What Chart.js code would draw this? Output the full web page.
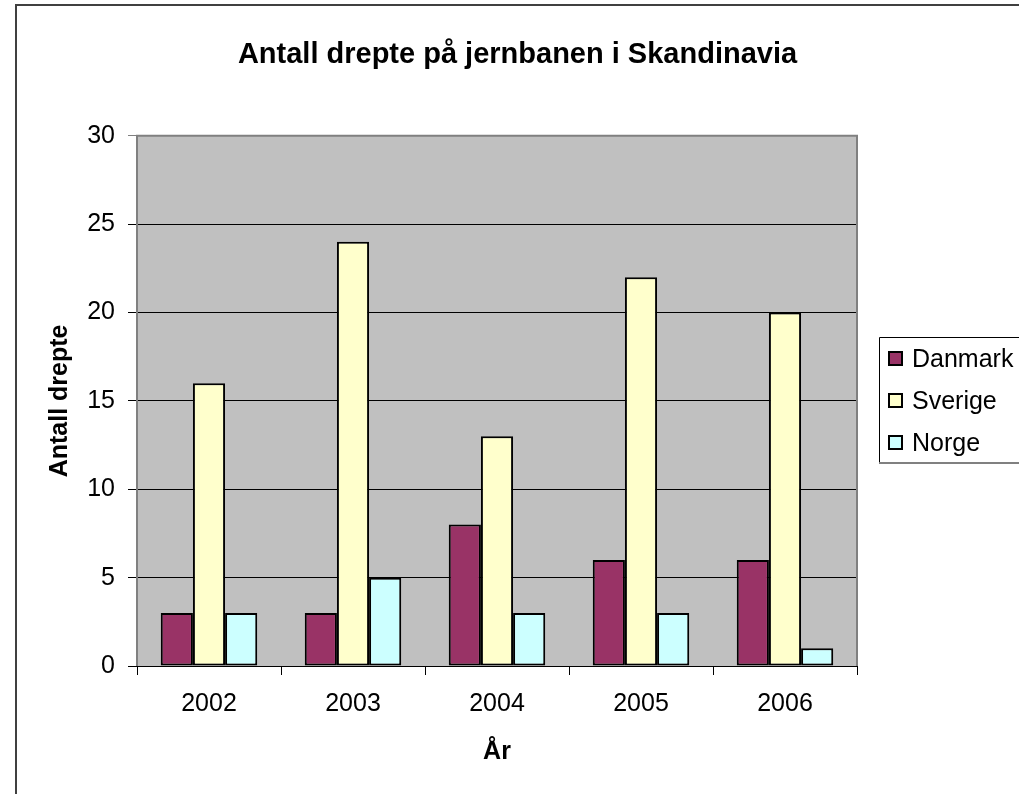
<!DOCTYPE html>
<html>
<head>
<meta charset="utf-8">
<script src="https://cdn.jsdelivr.net/npm/chart.js@4"></script>
<style>
    body { margin: 0; background: #fff; overflow: hidden; }
    canvas { display: block; }
</style>
</head>
<body>
<canvas id="graficoDrepte" width="1019" height="794"></canvas>
<script>
const aar = ['2002', '2003', '2004', '2005', '2006'];
const danmark = [3, 3, 8, 6, 6];
const sverige = [16, 24, 13, 22, 20];
const norge = [3, 5, 3, 3, 1];

const fonte = '"Liberation Sans", Arial, sans-serif';

// bakgrunn, ramme og egen forklaring (legend) slik Excel tegner dem
const excelPlugin = {
    id: 'excelStil',
    beforeDraw(chart) {
        const ctx = chart.ctx;
        const a = chart.chartArea;
        ctx.save();
        ctx.fillStyle = '#fff';
        ctx.fillRect(0, 0, chart.width, chart.height);
        ctx.strokeStyle = '#404040';
        ctx.lineWidth = 2;
        ctx.beginPath();
        ctx.moveTo(16, chart.height);
        ctx.lineTo(16, 5);
        ctx.lineTo(chart.width, 5);
        ctx.stroke();
        ctx.fillStyle = '#c0c0c0';
        ctx.fillRect(a.left, a.top, a.right - a.left, a.bottom - a.top);
        ctx.restore();
    },
    afterDatasetsDraw(chart) {
        const ctx = chart.ctx;
        const a = chart.chartArea;
        ctx.save();
        ctx.strokeStyle = '#808080';
        ctx.lineWidth = 2;
        ctx.beginPath();
        ctx.moveTo(a.left, a.bottom);
        ctx.lineTo(a.left, a.top);
        ctx.lineTo(a.right, a.top);
        ctx.lineTo(a.right, a.bottom);
        ctx.stroke();
        ctx.strokeStyle = '#000';
        ctx.lineWidth = 1;
        ctx.beginPath();
        ctx.moveTo(a.left, a.bottom + 0.5);
        ctx.lineTo(a.right, a.bottom + 0.5);
        ctx.stroke();

        // forklaring
        const lx = 879, ly = 337, lh = 126;
        ctx.fillStyle = '#fff';
        ctx.fillRect(lx, ly, chart.width - lx, lh);
        ctx.strokeStyle = '#000';
        ctx.lineWidth = 1;
        ctx.beginPath();
        ctx.moveTo(lx + 0.5, ly + lh);
        ctx.lineTo(lx + 0.5, ly + 0.5);
        ctx.lineTo(chart.width, ly + 0.5);
        ctx.stroke();
        ctx.strokeStyle = '#808080';
        ctx.lineWidth = 2;
        ctx.beginPath();
        ctx.moveTo(lx, ly + lh);
        ctx.lineTo(chart.width, ly + lh);
        ctx.stroke();
        ctx.font = '25px ' + fonte;
        ctx.textBaseline = 'middle';
        chart.data.datasets.forEach((ds, i) => {
            const y = 359 + i * 42;
            ctx.fillStyle = ds.backgroundColor;
            ctx.fillRect(889, y - 7, 13, 13);
            ctx.strokeStyle = '#000';
            ctx.lineWidth = 2;
            ctx.strokeRect(889, y - 7, 13, 13);
            ctx.fillStyle = '#000';
            ctx.fillText(ds.label, 912, y + 1);
        });
        ctx.restore();
    }
};

const graficoDrepte = document.getElementById('graficoDrepte');

const grafico = new Chart(graficoDrepte, {
    type: 'bar',
    data: {
        labels: aar,
        datasets: [{
            label: 'Danmark',
            data: danmark,
            backgroundColor: '#993366'
        }, {
            label: 'Sverige',
            data: sverige,
            backgroundColor: '#ffffcc'
        }, {
            label: 'Norge',
            data: norge,
            backgroundColor: '#ccffff'
        }]
    },
    options: {
        responsive: false,
        animation: false,
        devicePixelRatio: 1,
        layout: { padding: { left: 16, right: 0, top: 0, bottom: 0 } },
        datasets: {
            bar: {
                borderColor: '#000',
                borderWidth: 2,
                borderSkipped: false,
                categoryPercentage: 0.67,
                barPercentage: 1
            }
        },
        plugins: {
            legend: { display: false },
            tooltip: { enabled: false },
            title: {
                display: true,
                text: 'Antall drepte på jernbanen i Skandinavia',
                color: '#000',
                font: { family: fonte, size: 29, weight: 'bold' },
                padding: { top: 38, bottom: 63 }
            }
        },
        scales: {
            x: {
                grid: {
                    offset: true,
                    drawOnChartArea: false,
                    drawTicks: true,
                    tickLength: 9,
                    color: '#000'
                },
                border: { display: false },
                ticks: {
                    color: '#000',
                    font: { family: fonte, size: 25 },
                    padding: 14,
                    maxRotation: 0
                },
                title: {
                    display: true,
                    text: 'År',
                    color: '#000',
                    font: { family: fonte, size: 25, weight: 'bold' },
                    padding: { top: 0, bottom: 27 }
                },
                afterFit(scale) { scale.height = 128; }
            },
            y: {
                min: 0,
                max: 30,
                ticks: {
                    stepSize: 5,
                    color: '#000',
                    font: { family: fonte, size: 25 },
                    padding: 13
                },
                grid: {
                    color: (c) => c.tick && c.tick.value === 30 ? '#808080' : '#000',
                    lineWidth: 1,
                    tickLength: 9,
                    drawTicks: true
                },
                border: { display: false },
                title: {
                    display: true,
                    text: 'Antall drepte',
                    color: '#000',
                    font: { family: fonte, size: 25, weight: 'bold' },
                    padding: { top: 29, bottom: 0 }
                },
                afterFit(scale) { scale.width = 121; }
            },
            plass: {
                type: 'linear',
                position: 'right',
                display: true,
                grid: { display: false, drawTicks: false },
                border: { display: false },
                ticks: { display: false },
                afterFit(scale) { scale.width = 162; }
            }
        }
    },
    plugins: [excelPlugin]
});
</script>
</body>
</html>
